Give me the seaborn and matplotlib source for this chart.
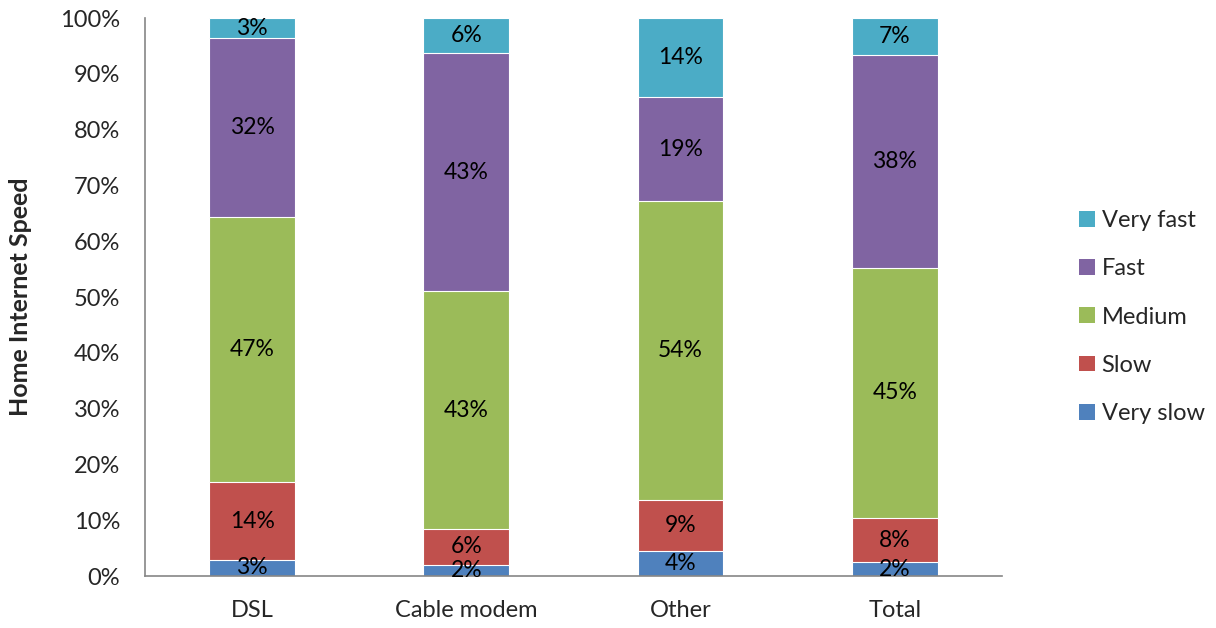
import matplotlib
matplotlib.use("Agg")
import matplotlib.pyplot as plt
import seaborn as sns
import numpy as np
import pandas as pd
from matplotlib.patches import Patch

categories = ["DSL", "Cable modem", "Other", "Total"]
series_names = ["Very slow", "Slow", "Medium", "Fast", "Very fast"]
very_slow = [2.9, 2.0, 4.5, 2.5]
slow = [13.9, 6.4, 9.1, 7.9]
medium = [47.5, 42.7, 53.6, 44.8]
fast = [32.1, 42.6, 18.6, 38.2]
very_fast = [3.6, 6.3, 14.2, 6.6]
labels = [
    ["3%", "2%", "4%", "2%"],
    ["14%", "6%", "9%", "8%"],
    ["47%", "43%", "54%", "45%"],
    ["32%", "43%", "19%", "38%"],
    ["3%", "6%", "14%", "7%"],
]
colors = ["#4F81BD", "#C0504D", "#9BBB59", "#8064A2", "#4BACC6"]

sns.set_theme(style="white")
plt.rcParams["font.family"] = ["Lato", "DejaVu Sans"]

fig = plt.figure(figsize=(12.16, 6.28), dpi=100)
ax = fig.add_axes([0.1192, 0.0828, 0.7048, 0.8885])

values = np.array([very_slow, slow, medium, fast, very_fast])
cum = np.cumsum(values, axis=0)

# draw cumulative bars from top to bottom
for i in range(len(series_names) - 1, -1, -1):
    df = pd.DataFrame({"cat": categories, "val": cum[i]})
    sns.barplot(data=df, x="cat", y="val", color=colors[i], width=0.4,
                edgecolor="white", linewidth=0.8, saturation=1, ax=ax, zorder=2)

for i in range(len(series_names)):
    for j in range(len(categories)):
        bottom = cum[i][j] - values[i][j]
        y = bottom + values[i][j] / 2
        ax.text(j, y, labels[i][j], ha="center", va="center", fontsize=16.5,
                color="black", zorder=5)

ax.set_xlim(-0.5, 3.5)
ax.set_ylim(0, 100)
ax.set_yticks(np.arange(0, 101, 10))
ax.set_yticklabels([f"{v}%" for v in range(0, 101, 10)], fontsize=17)
ax.tick_params(axis="x", labelsize=17, length=0, pad=17)
ax.tick_params(axis="y", length=0, pad=18)
ax.set_xlabel("")
ax.set_ylabel("Home Internet Speed", fontsize=18, fontweight="bold", labelpad=20)

for s in ["top", "right"]:
    ax.spines[s].set_visible(False)
for s in ["left", "bottom"]:
    ax.spines[s].set_color("#868686")
    ax.spines[s].set_linewidth(1.2)

handles = [Patch(facecolor=colors[i], edgecolor="none") for i in range(4, -1, -1)]
names = [series_names[i] for i in range(4, -1, -1)]
fig.legend(handles, names, loc="center left", bbox_to_anchor=(0.870, 0.495),
           frameon=False, fontsize=17, labelspacing=1.15, handlelength=0.65,
           handleheight=0.65, handletextpad=0.3)

fig.savefig("out.png", dpi=100)
